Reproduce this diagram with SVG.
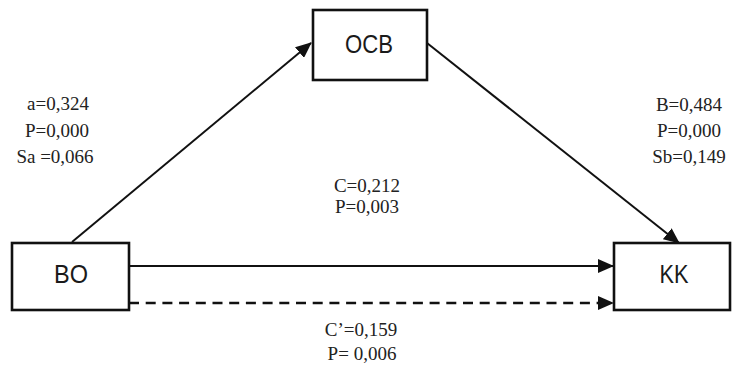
<svg xmlns="http://www.w3.org/2000/svg" width="732" height="366" viewBox="0 0 732 366">
<style>
.box{fill:#fff;stroke:#111;stroke-width:2.6}
.lbl{font-family:"Liberation Sans","Open Sans",sans-serif;font-size:25px;fill:#1a1a1a;text-anchor:middle}
.num{font-family:"Liberation Serif","Times New Roman",serif;font-size:19px;fill:#222;text-anchor:middle}
.edge{stroke:#111;stroke-width:2;fill:none}
.dash{stroke-dasharray:10 6.7;stroke-width:2.6}
</style>
<defs>
<marker id="ah" markerUnits="userSpaceOnUse" markerWidth="16" markerHeight="14" refX="15" refY="7" orient="auto">
<path d="M0,0 L16,7 L0,14 Z" fill="#111"/>
</marker>
</defs>
<g id="connectors">
<line class="edge" x1="72" y1="242" x2="311" y2="43" marker-end="url(#ah)"/>
<line class="edge" x1="427" y1="43" x2="679" y2="243" marker-end="url(#ah)"/>
<line class="edge" x1="129" y1="266" x2="613" y2="266" marker-end="url(#ah)"/>
<line class="edge dash" x1="129" y1="303" x2="613" y2="303" marker-end="url(#ah)"/>
</g>
<g id="OCB">
<rect class="box" x="313" y="10" width="114" height="70"/>
<text class="lbl" x="369" y="53" textLength="48" lengthAdjust="spacingAndGlyphs">OCB</text>
</g>
<g id="BO">
<rect class="box" x="12" y="243" width="117" height="67"/>
<text class="lbl" x="71" y="283" textLength="34" lengthAdjust="spacingAndGlyphs">BO</text>
</g>
<g id="KK">
<rect class="box" x="614" y="243" width="116" height="67"/>
<text class="lbl" x="674" y="283" textLength="29" lengthAdjust="spacingAndGlyphs">KK</text>
</g>
<g id="labels">
<text class="num" x="58" y="110">a=0,324</text>
<text class="num" x="57" y="137">P=0,000</text>
<text class="num" x="55" y="163">Sa =0,066</text>
<text class="num" x="689" y="111">B=0,484</text>
<text class="num" x="689" y="137">P=0,000</text>
<text class="num" x="689" y="163">Sb=0,149</text>
<text class="num" x="367" y="192">C=0,212</text>
<text class="num" x="367" y="213">P=0,003</text>
<text class="num" x="361" y="336">C’=0,159</text>
<text class="num" x="362" y="360">P= 0,006</text>
</g>
</svg>
